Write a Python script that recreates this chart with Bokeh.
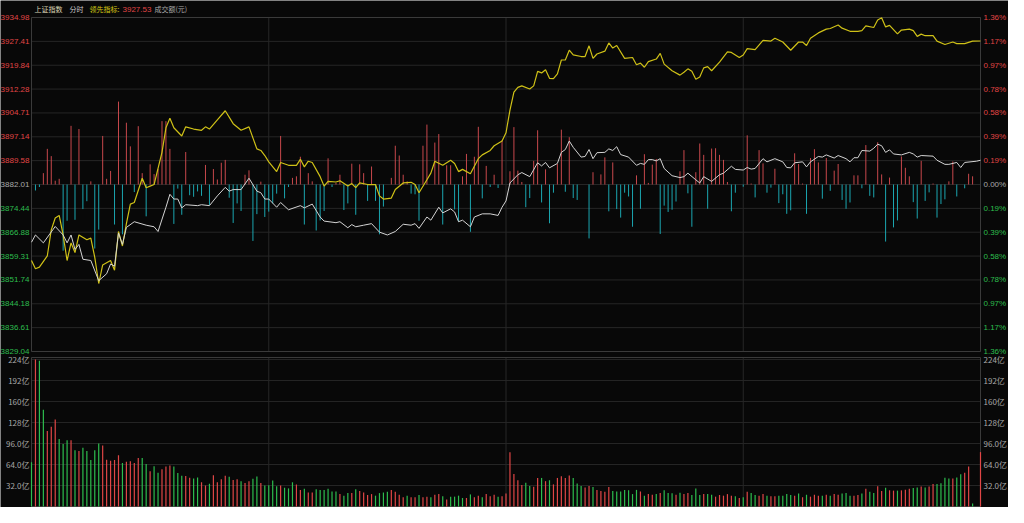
from bokeh.core.properties import value
from bokeh.embed import file_html
from bokeh.models import ColumnDataSource, Range1d
from bokeh.plotting import figure
from bokeh.resources import INLINE

# 上证指数 分时: minute 0..240 (09:30-11:30 / 13:00-15:00)
prev_close = 3882.01
minutes = list(range(241))

price_ticks = [3829.04, 3836.61, 3844.18, 3851.74, 3859.31, 3866.88, 3874.44, 3882.01,
               3889.58, 3897.14, 3904.71, 3912.28, 3919.84, 3927.41, 3934.98]
price_tick_labels = ["3829.04", "3836.61", "3844.18", "3851.74", "3859.31", "3866.88",
                     "3874.44", "3882.01", "3889.58", "3897.14", "3904.71", "3912.28",
                     "3919.84", "3927.41", "3934.98"]
pct_tick_labels = ["1.36%", "1.17%", "0.97%", "0.78%", "0.58%", "0.39%", "0.19%", "0.00%",
                   "0.19%", "0.39%", "0.58%", "0.78%", "0.97%", "1.17%", "1.36%"]
time_grid = [60, 120, 180]
vol_ticks = [32, 64, 96, 128, 160, 192, 224]
vol_tick_labels = ["32.0亿", "64.0亿", "96.0亿", "128亿", "160亿", "192亿", "224亿"]
vol_top = 227

# white line: 上证指数
index_t = [0, 1, 3, 6, 8, 9, 10, 11, 12, 13, 15, 17, 19, 20, 21, 22, 23, 24, 26, 29,
           31, 32, 34, 35, 36, 37, 38, 39, 42, 43, 45, 47, 49, 50, 51, 53, 55, 57, 58, 59,
           60, 62, 63, 65, 68, 69, 71, 73, 74, 77, 78, 80, 81, 82, 84, 86, 88, 90, 92, 94,
           96, 97, 98, 100, 101, 103, 104, 106, 107, 108, 109, 111, 112, 114, 116, 118, 119,
           120, 121, 123, 124, 126, 128, 129, 130, 131, 133, 134, 135, 136, 137, 139, 140,
           141, 142, 143, 145, 146, 147, 148, 149, 151, 153, 154, 155, 156, 157, 158, 159,
           160, 162, 164, 165, 166, 168, 169, 170, 172, 174, 175, 177, 178, 180, 181, 182,
           183, 185, 186, 188, 190, 191, 192, 193, 195, 196, 197, 199, 200, 201, 203, 204,
           206, 207, 208, 209, 210, 212, 213, 214, 215, 216, 217, 218, 220, 222, 223, 224,
           225, 228, 229, 231, 232, 234, 235, 236, 239, 240]
index_v = [3863.7, 3866.0, 3863.5, 3868.7, 3866.0, 3863.5, 3866.0, 3861.4, 3863.0, 3858.3,
           3857.9, 3851.5, 3853.7, 3856.8, 3856.1, 3866.6, 3863.0, 3868.4, 3870.2, 3869.1,
           3868.6, 3867.1, 3874.8, 3878.9, 3877.4, 3877.4, 3874.6, 3875.6, 3875.3, 3875.6,
           3875.3, 3878.4, 3881.1, 3879.9, 3880.4, 3880.4, 3884.0, 3879.9, 3879.4, 3877.4,
           3877.4, 3874.8, 3876.3, 3874.0, 3875.3, 3874.6, 3875.8, 3871.7, 3870.4, 3869.9,
           3870.2, 3868.3, 3869.3, 3868.6, 3869.1, 3869.6, 3866.9, 3866.0, 3867.1, 3869.4,
           3869.1, 3869.6, 3868.1, 3871.7, 3870.7, 3874.8, 3873.0, 3874.3, 3873.3, 3870.2,
           3870.7, 3868.6, 3871.7, 3872.7, 3872.7, 3872.2, 3874.8,
           3876.8, 3882.5, 3885.1, 3885.8, 3884.5, 3888.9, 3887.9, 3889.0, 3887.3, 3888.7,
           3892.2, 3893.1, 3895.8, 3893.8, 3890.7, 3890.9,
           3893.1, 3890.2, 3892.1, 3892.2, 3893.3, 3892.8, 3894.0, 3891.5, 3890.7, 3888.1,
           3888.7, 3888.4, 3889.9, 3889.9, 3889.5, 3890.2,
           3887.1, 3884.8, 3884.2, 3884.5, 3885.6, 3883.5, 3882.5, 3884.5, 3883.0, 3885.1,
           3885.6, 3887.8, 3886.8, 3886.6, 3887.4, 3886.9,
           3887.1, 3890.2, 3889.2, 3890.2, 3889.2, 3887.4, 3887.3, 3888.9, 3889.2, 3887.6,
           3889.2, 3890.9, 3890.7, 3891.4, 3890.4, 3891.2,
           3890.2, 3889.2, 3890.5, 3890.5, 3892.8, 3892.6, 3893.5, 3894.8, 3894.3, 3892.2,
           3893.0, 3891.7, 3891.4, 3892.2, 3891.7, 3890.7,
           3891.2, 3891.0, 3889.7, 3888.4, 3888.4, 3889.0, 3887.4, 3889.0, 3889.4, 3889.7]

# yellow line: 领先指标
lead_t = [0, 1, 2, 4, 5, 6, 7, 8, 9, 10, 11, 12, 14, 15, 16, 17, 18, 20, 21, 22,
          23, 24, 25, 26, 28, 29, 30, 31, 32, 33, 34, 35, 36, 38, 39, 41, 43, 44, 45, 47,
          49, 51, 53, 55, 57, 58, 59, 60, 62, 63, 65, 67, 68, 69, 70, 71, 73, 74, 75, 77,
          78, 80, 81, 82, 83, 85, 87, 88, 89, 91, 92, 94, 96, 97, 98, 100, 101, 102, 104, 106,
          107, 108, 109, 111, 113, 114, 116, 117, 119, 120, 121, 122, 123, 124, 126, 127, 128,
          129, 130, 131, 132, 133, 134, 135, 136, 137, 139, 140, 141, 142, 143, 145, 146, 147,
          148, 150, 152, 153, 154, 155, 156, 158, 159, 160, 162, 164, 165, 166, 167, 168, 169,
          170, 171, 172, 174, 176, 177, 179, 180, 181, 183, 185, 187, 188, 190, 192, 194, 195,
          196, 197, 199, 201, 202, 204, 205, 207, 209, 210, 211, 213, 214, 215, 216, 217, 219,
          220, 222, 223, 224, 225, 226, 228, 229, 231, 233, 234, 236, 238, 240]
lead_v = [3857.9, 3855.3, 3855.8, 3859.4, 3867.6, 3871.4, 3872.2, 3866.0, 3857.9, 3863.5,
          3860.4, 3866.0, 3864.5, 3865.0, 3858.9, 3850.6, 3856.5, 3857.9, 3854.8, 3867.1,
          3862.5, 3869.6, 3875.8, 3876.3, 3884.0, 3881.0, 3881.5, 3882.0, 3887.1, 3892.2,
          3900.0, 3903.0, 3900.0, 3897.4, 3900.3, 3899.6, 3899.2, 3900.3, 3899.6, 3902.5,
          3905.4, 3901.3, 3899.2, 3900.3, 3893.3, 3892.8, 3891.2, 3889.2, 3886.1, 3889.0,
          3888.1, 3888.1, 3890.0, 3887.6, 3889.4, 3889.0, 3884.5, 3881.5, 3883.0, 3882.8,
          3883.2, 3881.5, 3882.3, 3881.0, 3882.5, 3882.0, 3882.0, 3878.4, 3877.4, 3877.7,
          3880.4, 3882.5, 3882.7, 3882.0, 3879.4, 3883.5, 3885.6, 3889.4, 3888.1, 3889.7,
          3888.7, 3886.1, 3886.8, 3885.4, 3890.2, 3891.4, 3892.8, 3894.3, 3895.8, 3898.4,
          3905.6, 3911.3, 3912.8, 3913.3, 3912.3, 3913.3, 3917.9,
          3917.4, 3918.4, 3915.7, 3915.6, 3917.1, 3921.5, 3921.5, 3924.6, 3923.1, 3922.6,
          3922.6, 3926.0, 3922.0, 3923.4, 3924.3, 3926.9, 3925.3,
          3926.1, 3922.0, 3922.3, 3920.0, 3920.5, 3919.2, 3921.0, 3921.8, 3923.6, 3920.2,
          3918.1, 3916.7, 3917.6, 3918.7, 3917.9, 3915.4, 3916.1,
          3919.0, 3919.4, 3918.1, 3920.8, 3924.1, 3923.9, 3922.3, 3923.1, 3925.1, 3924.8,
          3927.7, 3927.5, 3928.4, 3927.2, 3924.6, 3927.2, 3927.2,
          3926.1, 3928.4, 3930.1, 3931.3, 3931.5, 3932.6, 3931.6, 3930.6, 3930.6, 3930.8,
          3932.3, 3931.8, 3934.2, 3934.9, 3932.0, 3932.5, 3929.8,
          3931.0, 3931.3, 3930.8, 3929.0, 3929.7, 3929.2, 3929.2, 3927.5, 3926.4, 3927.2,
          3926.7, 3926.7, 3927.5, 3927.53]

# red / cyan bars around the previous close (index points)
strength = [0, -1.9, -0.8, 3.6, 11.3, 9.0, 1.2, 1.8, -21.0, -11.5,
            18.6, -11.2, 17.6, -7.8, -5.3, 1.0, -20.3, -14.3, 15.4, 1.8,
            4.3, -12.7, 26.3, -15.8, 19.6, 12.1, -2.4, 18.5, 3.6, -10.1,
            6.4, 3.3, 4.9, 20.1, 20.1, 11.3, -12.5, -1.3, -9.6, 10.3,
            -3.4, -3.9, -2.2, -3.6, 6.2, -6.5, 4.9, 1.6, 6.9, 7.8,
            -4.2, -12.2, -6.0, -8.4, 3.1, 4.5, -17.9, -9.4, 0.9, -10.3,
            -8.6, -6.0, -2.9, 15.4, -4.4, -0.8, 2.1, 2.6, 8.8, -12.7,
            3.6, 1.0, -14.6, -11.4, -8.4, 8.3, -0.8, 0.5, 3.1, -8.1,
            -6.0, 6.6, -9.6, 6.4, 3.6, -5.2, 5.7, -5.2, -15.8, -7.0,
            0, 2.1, 12.3, 9.2, 3.1, 1.0, -2.9, -3.1, -11.5, 12.3,
            19.0, 0, 13.3, 16.0, -12.7, 6.1, 6.1, -7.9, -11.7, 2.6,
            9.7, -15.0, 8.8, 18.3, -4.4, 5.9, -0.8, 3.1, -1.1, 14.0,
            0, 4.2, 18.2, 4.4, 0.8, -7.2, -4.3, 7.5, 17.2, -5.7,
            4.8, -12.3, -2.6, 6.5, 17.4, -2.3, 15.0, -4.3, -4.9, 0,
            0, -17.1, 3.9, 0, 3.2, 8.6, -8.5, 7.0, -7.8, -10.5,
            -2.6, -3.8, -13.4, 2.9, -7.7, 9.6, 0.5, 6.3, 8.1, -15.7,
            -6.7, -8.7, -8.0, -5.4, 4.2, 10.9, -2.8, -13.4, 3.9, 13.0,
            9.4, -7.7, 11.4, 11.5, 9.4, 7.8, 0.8, -8.5, -2.6, 0,
            -0.7, 15.6, 0.3, -4.1, 10.9, 6.7, -2.6, -1.0, 5.0, -5.9,
            -3.1, -9.3, -8.2, 9.9, 6.5, 0.3, -9.3, 8.4, 11.2, 7.0,
            -4.5, 8.4, -2.0, 4.4, 6.5, -4.9, -7.7, -5.7, 2.9, 2.9,
            -1.2, 12.5, -3.6, -4.1, 13.4, 3.2, -18.1, 2.2, -13.6, -11.4,
            8.9, 5.3, 2.6, -5.6, -10.8, 7.5, -5.2, -2.5, 0.3, -10.5,
            -6.2, -4.7, 1.0, 7.3, -3.8, 0, -1.2, 3.4, 2.6, 0,
            0]

# 成交额 per minute (亿)
turnover = [67.3, 224.0, 222.0, 147.5, 115.0, 121.4, 132.7, 102.8, 95.4, 100.8,
            100.8, 85.6, 84.6, 89.5, 84.6, 70.8, 85.6, 95.9, 92.9, 71.3,
            69.8, 70.8, 78.2, 66.3, 68.3, 68.8, 66.3, 73.7, 73.7, 64.9,
            53.6, 61.4, 51.6, 56.6, 61.0, 62.5, 61.0, 51.2, 46.7, 46.3,
            43.8, 42.8, 44.3, 36.9, 32.0, 34.5, 47.7, 36.9, 41.4, 46.7,
            45.3, 40.5, 41.7, 38.3, 35.9, 38.3, 42.2, 45.6, 35.9, 32.0,
            32.5, 39.8, 31.0, 32.0, 28.6, 27.6, 36.9, 33.5, 25.2, 27.2,
            21.3, 21.3, 26.2, 25.2, 25.2, 27.2, 22.8, 22.8, 18.9, 16.5,
            20.4, 20.4, 26.2, 23.8, 21.3, 17.5, 18.9, 16.5, 20.4, 21.3,
            22.3, 25.2, 22.3, 17.9, 14.1, 16.5, 14.1, 14.1, 17.5, 14.1,
            15.0, 14.1, 17.9, 18.9, 15.5, 10.6, 15.0, 15.0, 16.5, 13.0,
            13.0, 18.4, 14.0, 16.5, 14.0, 18.9, 15.5, 17.9, 15.0, 15.5,
            19.9, 82.7, 49.4, 40.0, 32.7, 36.1, 31.2, 30.2, 43.5, 43.5,
            38.6, 40.0, 33.7, 43.5, 46.0, 43.5, 47.3, 43.5, 35.2, 31.2,
            28.8, 31.2, 29.7, 25.3, 23.8, 22.4, 29.7, 23.8, 22.9, 22.9,
            25.3, 24.8, 18.9, 25.3, 22.9, 16.5, 18.9, 17.9, 18.9, 20.4,
            24.8, 20.4, 20.0, 18.0, 21.0, 19.0, 20.4, 17.5, 27.6, 17.5,
            18.9, 18.9, 17.9, 15.0, 17.5, 16.5, 18.9, 16.5, 15.5, 13.1,
            14.1, 22.3, 20.4, 17.5, 16.5, 18.9, 16.5, 15.5, 15.5, 16.5,
            16.5, 18.9, 17.5, 16.5, 19.9, 14.1, 17.9, 15.0, 17.9, 16.5,
            16.5, 17.9, 16.5, 18.9, 17.9, 19.9, 20.4, 16.5, 16.5, 17.5,
            19.9, 27.2, 22.3, 20.4, 31.0, 23.8, 28.6, 24.7, 24.2, 24.2,
            24.6, 25.6, 27.1, 28.1, 29.1, 30.5, 29.1, 30.5, 34.4, 34.4,
            35.4, 43.8, 42.8, 42.8, 44.2, 49.1, 51.6, 60.9, 4.6, 0,
            82.9]

# r = minute closed up, g = minute closed down
updown = ("grggrrrggg" "rgrgggggrr" "rrrgrrrrgg" "rggrrrgggr" "rggrrgrrrr"
          "grrgrrggrg" "gggrgggrrg" "rrggggggrg" "grgrrrrggg" "grrrrgrrgr"
          "rgrrgrgggg" "rgrrgrrrgr" "rrrrrggrrg" "rgrrrrrggg" "rrgrrrrggg"
          "ggggrgrrgr" "gggrgrrggg" "rggrrrrrgr" "grggrrgrrg" "gggrgrgrrr"
          "grgrrgggrr" "grggrrgrrg" "rrrggrgrrg" "gggrggrrgg" "r")

BG = "#080808"
GRID = "#262626"
FRAME = "#3a3a3a"
RED = "#e04646"
GREEN = "#2dbd4e"
GRAY = "#a8a8a8"
NUM_FONT = value("Liberation Sans")
CJK_FONT = value("Noto Sans CJK SC")

# canvas layout (px): price box and volume box share one canvas,
# tick texts sit in the side margins
W, H = 1008, 507
LEFT, RIGHT = 31, 28
P_TOP, P_BOT = 17, 351
V_TOP, V_BOT = 357, 506

lo1, hi1 = price_ticks[0], price_ticks[-1]
XS = (W - LEFT - RIGHT) / 240.0
ys1 = (P_BOT - P_TOP) / (hi1 - lo1)
ys2 = (V_BOT - V_TOP) / float(vol_top)

p = figure(width=W, height=H,
           x_range=Range1d(-LEFT / XS, 240 + RIGHT / XS),
           y_range=Range1d(lo1 - (H - P_BOT) / ys1, hi1 + P_TOP / ys1),
           x_axis_location=None, y_axis_location=None, toolbar_location=None,
           output_backend="svg", min_border=0)
p.extra_y_ranges = {"vol": Range1d(-(H - V_BOT) / ys2, vol_top + V_TOP / ys2)}
p.grid.visible = False
p.background_fill_color = BG
p.border_fill_color = BG
p.outline_line_color = None


def grid_and_frame(ticks, lo, hi, yname):
    p.segment(x0=0, y0=ticks, x1=240, y1=ticks, line_color=GRID, line_width=1,
              y_range_name=yname)
    p.segment(x0=time_grid, y0=lo, x1=time_grid, y1=hi, line_color=GRID, line_width=1,
              y_range_name=yname)
    p.quad(left=[0], right=[240], bottom=[lo], top=[hi], fill_color=None,
           line_color=FRAME, line_width=1, y_range_name=yname)


def side_labels(ticks, left_texts, right_texts, colors, font, yname):
    n = len(ticks)
    p.text(x=[-2 / XS] * n, y=ticks, text=left_texts, text_color=colors,
           text_align="right", text_baseline="middle", text_font=font,
           text_font_size="8px", y_range_name=yname)
    p.text(x=[240 + 3 / XS] * n, y=ticks, text=right_texts, text_color=colors,
           text_align="left", text_baseline="middle", text_font=font,
           text_font_size="8px", y_range_name=yname)


# price box
grid_and_frame(price_ticks, lo1, hi1, "default")
bar_src = ColumnDataSource(dict(
    x=minutes,
    y0=[prev_close] * len(minutes),
    y1=[prev_close + s for s in strength],
    c=["#c8484c" if s > 0 else "#1ba6b0" for s in strength],
))
p.segment("x", "y0", "x", "y1", source=bar_src, line_color="c", line_width=1)
p.line(lead_t, lead_v, line_color="#cfc117", line_width=1.2)
p.line(index_t, index_v, line_color="#d4d4d4", line_width=1)

tick_colors = [RED if t > prev_close else GREEN if t < prev_close else GRAY
               for t in price_ticks]
side_labels(price_ticks, price_tick_labels, pct_tick_labels, tick_colors, NUM_FONT,
            "default")

# title line above the price box
title_y = hi1 + 8.5 / ys1
for px, text, color, font, size in [
    (3, "上证指数", "#dcd6b4", CJK_FONT, "7px"),
    (38, "分时", "#c8c8c8", CJK_FONT, "7px"),
    (58, "领先指标:", "#d8cc14", CJK_FONT, "7px"),
    (91, "3927.53", RED, NUM_FONT, "8px"),
    (123, "成交额(元)", GRAY, CJK_FONT, "7px"),
]:
    p.text(x=[px / XS], y=[title_y], text=[text], text_color=color, text_font=font,
           text_font_size=size, text_baseline="middle", text_align="left")

# volume box
grid_and_frame(vol_ticks, 0, vol_top, "vol")
vol_src = ColumnDataSource(dict(
    x=minutes,
    v=turnover,
    c=[RED if f == "r" else GREEN for f in updown],
))
p.segment(x0="x", y0=0, x1="x", y1="v", source=vol_src, line_color="c", line_width=1.2,
          y_range_name="vol")
side_labels(vol_ticks, vol_tick_labels, vol_tick_labels, [GRAY] * len(vol_ticks),
            CJK_FONT, "vol")

open("out.html", "w").write(file_html(p, INLINE))
